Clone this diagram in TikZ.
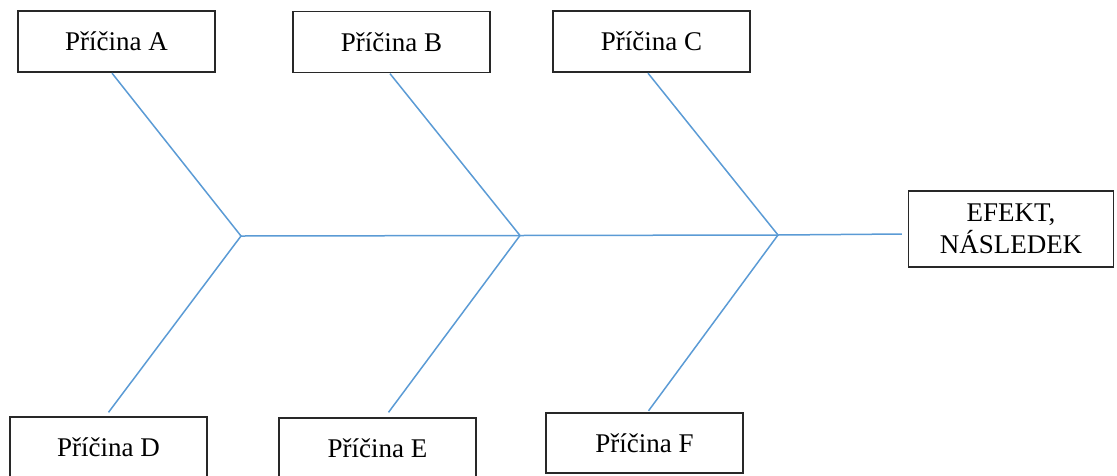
\documentclass[tikz,border=0pt]{standalone}
\usepackage{fontspec}
\setmainfont{Liberation Serif}
\usetikzlibrary{calc}
\definecolor{bone}{RGB}{91,155,213}
\definecolor{frame}{RGB}{40,40,40}
\tikzset{
  cause/.style={draw=frame, line width=1.3pt, minimum width=197pt, minimum height=61pt, inner sep=0pt, font=\fontsize{27}{31}\selectfont},
  effect/.style={draw=frame, line width=1.3pt, minimum width=205pt, minimum height=76pt, inner sep=0pt, align=center, font=\fontsize{27}{32}\selectfont},
  boneline/.style={draw=bone, line width=1.5pt}
}
\begin{document}
\begin{tikzpicture}[x=1pt,y=-1pt]
\useasboundingbox (0,0) rectangle (1117,475);
\node[cause] (A) at (116.5,41.5) {Příčina A};
\node[cause] (B) at (391.5,42) {Příčina B};
\node[cause] (C) at (651.5,41.5) {Příčina C};
\node[cause, minimum height=60pt] (D) at (108.5,447) {Příčina D};
\node[cause, minimum height=60pt] (E) at (377.5,448) {Příčina E};
\node[cause, minimum height=60pt] (F) at (644.5,443) {Příčina F};
\node[effect] (EF) at (1011,229) {EFEKT,\\NÁSLEDEK};
\coordinate (j1) at (241,236);
\coordinate (j2) at (520,235.5);
\coordinate (j3) at (778,235);
\draw[boneline] (j1) -- (j2) -- (j3) -- ($(EF.west)+(-6,5)$);
\draw[boneline] ($(A.south)+(-4.5,0.5)$) -- (j1) -- ($(D.north)+(0,-4)$);
\draw[boneline] ($(B.south)+(-1.5,0.5)$) -- (j2) -- ($(E.north)+(11,-5)$);
\draw[boneline] ($(C.south)+(-3.5,0.5)$) -- (j3) -- ($(F.north)+(4,-1.5)$);
\end{tikzpicture}
\end{document}
